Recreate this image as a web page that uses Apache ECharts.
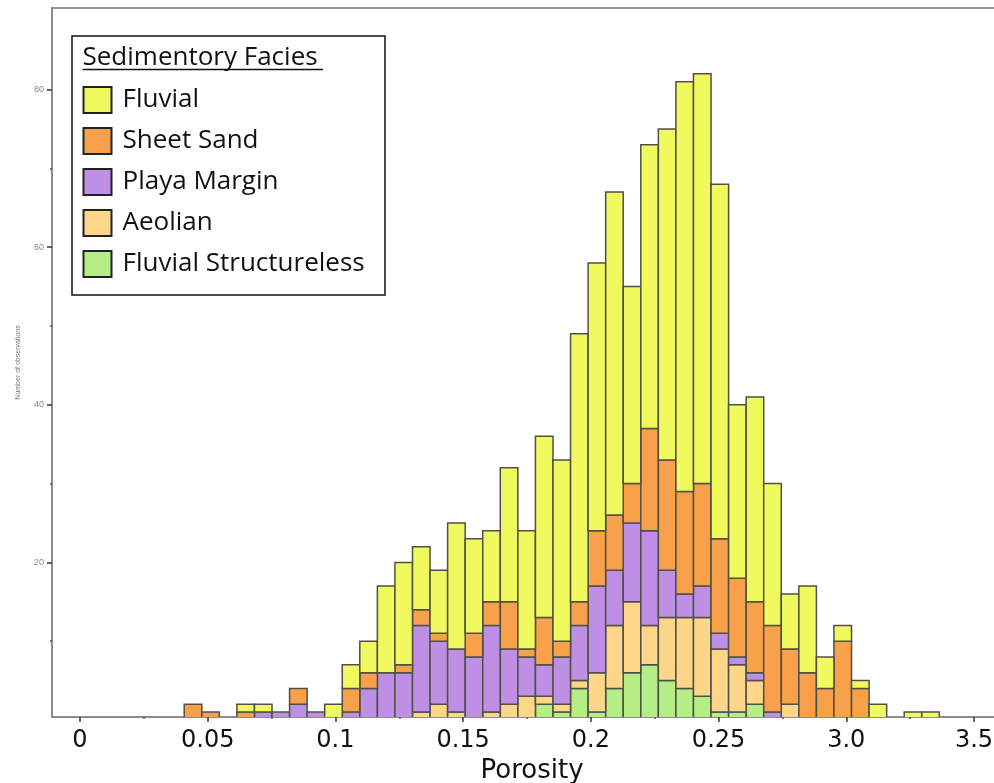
<!DOCTYPE html>
<html>
<head>
<meta charset="utf-8">
<script src="https://cdn.jsdelivr.net/npm/echarts@6/dist/echarts.min.js"></script>
<style>
  html, body { margin: 0; padding: 0; background: #ffffff; }
  #chart { width: 994px; height: 783px; }
</style>
</head>
<body>
<div id="chart"></div>
<script>
// Porosity bins: lower edge of the first bin and the common bin width
const binStart = 0.0408;
const binWidth = 0.006875;

// Number of observations per bin for each facies (43 bins)
const fluvial = [0,0,0,1,1,0,0,0,2,3, 4,11,13,8,8,16,12,9,17,15, 23,23,34,34,41,25,36,42,52,52, 45,22,26,18,7,11,4,2,1,2, 0,1,1];
const sheetSand = [2,1,0,1,0,0,2,0,0,3, 2,0,1,2,1,0,3,3,6,1, 6,2,3,7,7,5,13,14,13,13, 12,10,9,11,7,6,4,10,4,0, 0,0,0];
const playaMargin = [0,0,0,0,1,1,2,1,0,1, 4,6,6,11,8,8,8,11,7,5, 4,6,7,11,7,10,12,6,3,4, 2,1,1,1,0,0,0,0,0,0, 0,0,0];
const aeolian = [0,0,0,0,0,0,0,0,0,0, 0,0,0,1,2,1,0,1,2,3, 1,1,1,5,8,9,5,8,9,10, 8,6,3,0,2,0,0,0,0,0, 0,0,0];
const fluvialStructureless = [0,0,0,0,0,0,0,0,0,0, 0,0,0,0,0,0,0,0,0,0, 2,1,4,1,4,6,7,5,4,3, 1,1,2,0,0,0,0,0,0,0, 0,0,0];

// Axis ticks and their printed labels
const xTickValues = [0, 0.05, 0.1, 0.15, 0.2, 0.25, 0.3, 0.35];
const xTickLabels = ['0', '0.05', '0.1', '0.15', '0.2', '0.25', '3.0', '3.5'];
const xMinorTicks = [0.025, 0.075, 0.125, 0.175, 0.225, 0.275, 0.325];
const yTickValues = [20, 40, 60, 80];
const yMinorTicks = [10, 30, 50, 70];

const legendOrder = ['Fluvial', 'Sheet Sand', 'Playa Margin', 'Aeolian', 'Fluvial Structureless'];

// Stacking order, bottom to top
const facies = [
  { name: 'Fluvial Structureless', values: fluvialStructureless, color: '#B5EE85' },
  { name: 'Aeolian', values: aeolian, color: '#FDD689' },
  { name: 'Playa Margin', values: playaMargin, color: '#BE8FE5' },
  { name: 'Sheet Sand', values: sheetSand, color: '#F9A04A' },
  { name: 'Fluvial', values: fluvial, color: '#F0FA5E' }
];

const X_MIN = -0.01096, X_MAX = 0.35861;
const Y_MIN = 0.38, Y_MAX = 90.35;

function renderBin(params, api) {
  const topLeft = api.coord([api.value(0), api.value(3)]);
  const bottomRight = api.coord([api.value(1), api.value(2)]);
  return {
    type: 'rect',
    shape: {
      x: topLeft[0],
      y: topLeft[1],
      width: bottomRight[0] - topLeft[0],
      height: bottomRight[1] - topLeft[1]
    },
    style: { fill: api.visual('color'), stroke: '#505046', lineWidth: 1.5 }
  };
}

const cumulative = new Array(fluvial.length).fill(0);
const series = facies.map(function (f) {
  const data = [];
  f.values.forEach(function (v, i) {
    if (v > 0) {
      const x0 = binStart + i * binWidth;
      data.push([x0, x0 + binWidth, cumulative[i], cumulative[i] + v]);
    }
    cumulative[i] += v;
  });
  return {
    type: 'custom',
    name: f.name,
    xAxisIndex: 0,
    yAxisIndex: 0,
    renderItem: renderBin,
    encode: { x: [0, 1], y: [2, 3] },
    itemStyle: { color: f.color },
    clip: true,
    data: data
  };
});

function xLabel(v) {
  for (let i = 0; i < xTickValues.length; i++) {
    if (Math.abs(v - xTickValues[i]) < 1e-9) return xTickLabels[i];
  }
  return '';
}

const chart = echarts.init(document.getElementById('chart'), null, { renderer: 'canvas' });
chart.setOption({
  animation: false,
  backgroundColor: '#ffffff',
  grid: {
    left: 52, right: -2, top: 8, bottom: 66,
    outerBoundsMode: 'none', containLabel: false,
    show: true, borderColor: '#9a9a9a', borderWidth: 2, backgroundColor: 'transparent'
  },
  xAxis: [
    {
      type: 'value', min: X_MIN, max: X_MAX, position: 'bottom',
      axisLine: { show: true, onZero: false, lineStyle: { color: '#8c8c8c', width: 2 } },
      axisTick: { show: true, customValues: xTickValues, length: 5, lineStyle: { color: '#333', width: 1.5 } },
      axisLabel: {
        customValues: xTickValues, formatter: xLabel,
        fontFamily: 'DejaVu Sans', fontSize: 24, color: '#111', margin: 12
      },
      splitLine: { show: false },
      name: 'Porosity', nameLocation: 'middle', nameGap: 40,
      nameTextStyle: { fontFamily: 'DejaVu Sans', fontSize: 26, color: '#111', padding: [0, 0, 0, 16] }
    },
    {
      type: 'value', min: X_MIN, max: X_MAX, position: 'bottom',
      axisLine: { show: false, onZero: false },
      axisTick: { show: true, customValues: xMinorTicks, length: 2, lineStyle: { color: '#555', width: 1.5 } },
      axisLabel: { show: false },
      splitLine: { show: false }
    }
  ],
  yAxis: [
    {
      type: 'value', min: Y_MIN, max: Y_MAX, position: 'left',
      axisLine: { show: true, onZero: false, lineStyle: { color: '#8c8c8c', width: 2 } },
      axisTick: { show: true, customValues: yTickValues, length: 5, lineStyle: { color: '#333', width: 1.5 } },
      axisLabel: {
        customValues: yTickValues,
        fontFamily: 'Liberation Sans', fontSize: 9, color: '#888', margin: 8
      },
      splitLine: { show: false },
      name: 'Number of observations', nameLocation: 'middle', nameGap: 30,
      nameTextStyle: { fontFamily: 'Liberation Sans', fontSize: 7, color: '#777' }
    },
    {
      type: 'value', min: Y_MIN, max: Y_MAX, position: 'left',
      axisLine: { show: false, onZero: false },
      axisTick: { show: true, customValues: yMinorTicks, length: 2, lineStyle: { color: '#555', width: 1.5 } },
      axisLabel: { show: false },
      splitLine: { show: false }
    }
  ],
  legend: {
    data: legendOrder,
    orient: 'vertical', left: 82.5, top: 86, padding: 0,
    itemWidth: 28, itemHeight: 26, itemGap: 13,
    icon: 'rect',
    itemStyle: { borderColor: '#222', borderWidth: 2 },
    textStyle: { fontFamily: 'Open Sans', fontSize: 26, color: '#111', padding: [0, 0, 0, 6] },
    selectedMode: false,
    z: 10
  },
  graphic: [
    {
      type: 'rect', z: 1,
      shape: { x: 72, y: 36, width: 313, height: 259 },
      style: { fill: '#ffffff', stroke: '#111', lineWidth: 1.5 }
    },
    {
      type: 'text', z: 2, x: 82.5, y: 58,
      style: { text: 'Sedimentory Facies', fontFamily: 'Open Sans', fontSize: 26, fill: '#111', verticalAlign: 'middle' }
    },
    {
      type: 'line', z: 2,
      shape: { x1: 82.5, y1: 69.5, x2: 323, y2: 69.5 },
      style: { stroke: '#111', lineWidth: 1.5 }
    }
  ],
  series: series
});
</script>
</body>
</html>
